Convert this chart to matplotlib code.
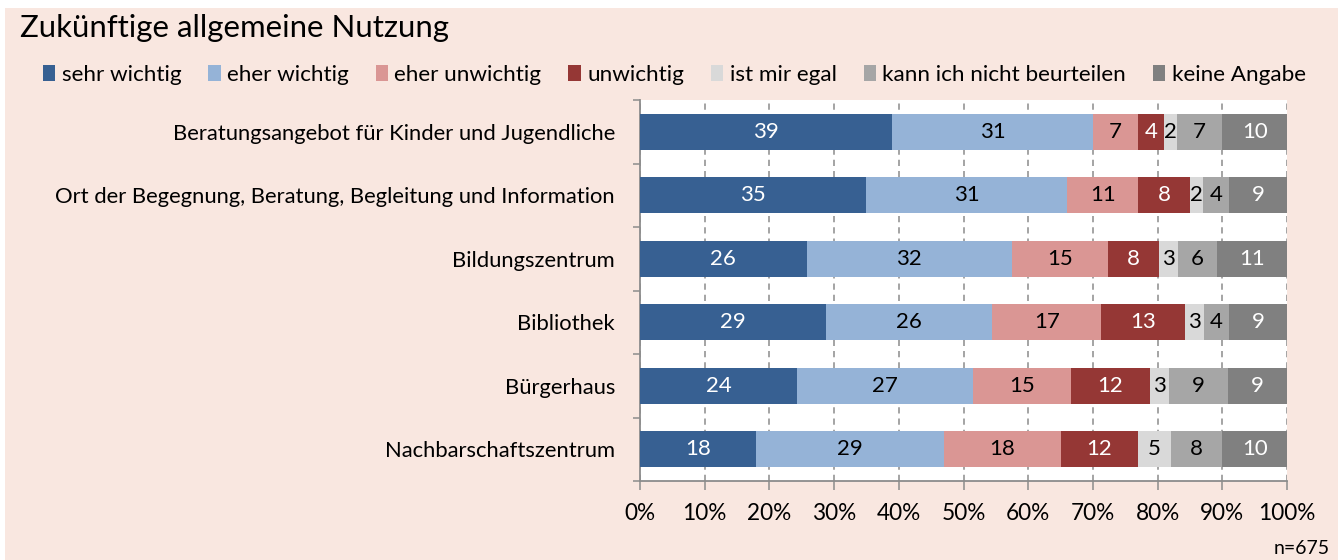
import matplotlib
matplotlib.use("Agg")
import matplotlib.pyplot as plt
import numpy as np
from matplotlib.patches import Rectangle

# ---------------- data ----------------
categories = [
    "Beratungsangebot für Kinder und Jugendliche",
    "Ort der Begegnung, Beratung, Begleitung und Information",
    "Bildungszentrum",
    "Bibliothek",
    "Bürgerhaus",
    "Nachbarschaftszentrum",
]
series_names = ["sehr wichtig", "eher wichtig", "eher unwichtig", "unwichtig",
                "ist mir egal", "kann ich nicht beurteilen", "keine Angabe"]
sehr_wichtig = [39, 35, 26, 29, 24, 18]
eher_wichtig = [31, 31, 32, 26, 27, 29]
eher_unwichtig = [7, 11, 15, 17, 15, 18]
unwichtig = [4, 8, 8, 13, 12, 12]
ist_mir_egal = [2, 2, 3, 3, 3, 5]
nicht_beurteilen = [7, 4, 6, 4, 9, 8]
keine_angabe = [10, 9, 11, 9, 9, 10]
x_ticks = [0, 10, 20, 30, 40, 50, 60, 70, 80, 90, 100]
x_tick_labels = ["0%", "10%", "20%", "30%", "40%", "50%", "60%", "70%", "80%", "90%", "100%"]
title = "Zukünftige allgemeine Nutzung"
n_note = "n=675"

series = [sehr_wichtig, eher_wichtig, eher_unwichtig, unwichtig,
          ist_mir_egal, nicht_beurteilen, keine_angabe]
colors = ["#376092", "#95B3D7", "#DA9694", "#953735", "#D9D9D9", "#A6A6A6", "#808080"]
text_colors = ["white", "black", "black", "white", "black", "black", "white"]

# ---------------- style ----------------
plt.rcParams["font.family"] = ["Lato", "DejaVu Sans"]
plt.rcParams["font.weight"] = "normal"
plt.rcParams["text.color"] = "black"
plt.rcParams["xtick.color"] = "black"
plt.rcParams["ytick.color"] = "black"
plt.rcParams["lines.scale_dashes"] = False
GRAY = "#8C8C8C"
BG = "#F9E7E0"

W, H = 1338, 560
fig = plt.figure(figsize=(W / 100, H / 100), dpi=100)
fig.patch.set_facecolor(BG)
fig.add_artist(Rectangle((0, 1 - 8 / H), 1, 8 / H, transform=fig.transFigure,
                         facecolor="white", edgecolor="none", zorder=0))
fig.add_artist(Rectangle((0, 0), 5 / W, 1, transform=fig.transFigure,
                         facecolor="white", edgecolor="none", zorder=0))

ax = fig.add_axes([640 / W, 1 - 481 / H, 647 / W, 381 / H])
ax.set_facecolor("white")

data = np.array(series, dtype=float)
totals = data.sum(axis=0)
shares = data / totals * 100
y = np.arange(len(categories))
left = np.zeros(len(categories))
for i, name in enumerate(series_names):
    cont = ax.barh(y, shares[i], left=left, height=0.573, color=colors[i],
                   label=name, linewidth=0, zorder=3)
    ax.bar_label(cont, labels=[str(v) for v in series[i]], label_type="center",
                 color=text_colors[i], fontsize=16, zorder=4)
    left += shares[i]

ax.set_xlim(0, 100)
ax.set_ylim(len(categories) - 0.5, -0.5)
ax.set_xticks(x_ticks, x_tick_labels)
ax.set_yticks(y, categories)
ax.set_yticks(np.arange(-0.5, len(categories), 1), minor=True)
ax.tick_params(axis="y", which="major", length=0, pad=18, labelsize=15.8, labelcolor="black")
ax.tick_params(axis="y", which="minor", length=5, width=1.1, color=GRAY, direction="out")
ax.tick_params(axis="x", which="major", length=6.5, width=1.1, color=GRAY,
               direction="out", pad=9, labelsize=16.3, labelcolor="black")

ax.xaxis.grid(True, color=GRAY, linewidth=1.1, linestyle=(0, (4.5, 3.6)), zorder=1)
ax.set_axisbelow(True)
for s in ["top", "right"]:
    ax.spines[s].set_visible(False)
for s in ["left", "bottom"]:
    ax.spines[s].set_color(GRAY)
    ax.spines[s].set_linewidth(1.3)

fig.text(20 / W, 1 - 27.5 / H, title, fontsize=22.4, va="center", ha="left", color="black")

handles, labels = ax.get_legend_handles_labels()
leg = fig.legend(handles, labels, loc="center left", bbox_to_anchor=(43 / W, 1 - 75 / H),
                 ncol=7, frameon=False, handlelength=0.55, handleheight=0.7,
                 handletextpad=0.28, columnspacing=1.2, borderaxespad=0, borderpad=0,
                 prop={"size": 16.2})
for t in leg.get_texts():
    t.set_color("black")

fig.text(1330 / W, 1 - 548 / H, n_note, fontsize=14, va="center", ha="right", color="black")

fig.savefig("out.png", dpi=100, facecolor=fig.get_facecolor())
